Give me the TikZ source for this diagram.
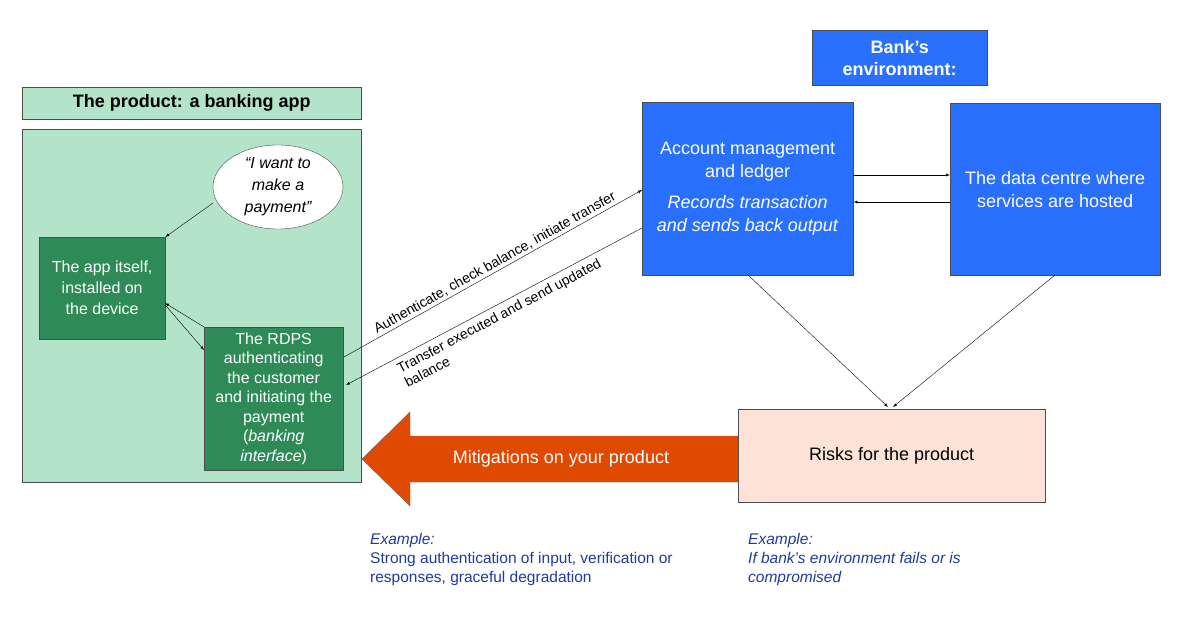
\documentclass[tikz,border=0pt]{standalone}
\usepackage{fontspec}
\setmainfont{Liberation Sans}
\usetikzlibrary{shapes.geometric}
\definecolor{bankblue}{HTML}{2970FF}
\definecolor{lightgreen}{HTML}{B3E3C9}
\definecolor{darkgreen}{HTML}{2E8B57}
\definecolor{peach}{HTML}{FDE3D7}
\definecolor{mitig}{HTML}{E04A00}
\definecolor{exblue}{HTML}{1F3C9C}
\tikzset{
  blue box/.style={draw=black!70, fill=bankblue, text=white, align=center, anchor=north west, inner sep=0pt},
  green box/.style={draw=black!70, fill=darkgreen, text=white, align=center, anchor=north west, inner sep=0pt},
  flow/.style={-latex, thin},
  lbl/.style={font=\fontsize{14}{16}\selectfont, align=center, inner sep=2pt},
  example/.style={text=exblue, font=\fontsize{15.5}{19}\selectfont, align=left, anchor=north west, inner sep=0pt}
}
\begin{document}
\begin{tikzpicture}[x=1pt, y=-1pt, font=\fontsize{18}{23}\selectfont]
  \useasboundingbox (0,0) rectangle (1187,623);

  % bank side
  \node[blue box, minimum width=175, minimum height=55, font=\fontsize{18}{22}\selectfont\bfseries] (bank) at (812,30) {Bank’s\\environment:};
  \node[blue box, minimum width=211, minimum height=173] (acc) at (642,102)
    {Account management\\and ledger\\[8pt]\textit{Records transaction}\\\textit{and sends back output}};
  \node[blue box, minimum width=210, minimum height=172] (dc) at (950,103)
    {The data centre where\\services are hosted};

  % product side
  \node[draw=black!70, fill=lightgreen, minimum width=339, minimum height=32, anchor=north west, inner sep=0pt,
        font=\fontsize{18}{22}\selectfont\bfseries] (head) at (22,87) {The product: a banking app};
  \node[draw=black!70, fill=lightgreen, minimum width=339, minimum height=353, anchor=north west, inner sep=0pt] (area) at (22,129) {};
  \node[draw=black!70, fill=white, ellipse, minimum width=130, minimum height=84, inner sep=0pt, align=center,
        font=\fontsize{16}{22}\selectfont\itshape] (wish) at (278,187) {“I want to\\make a\\payment”};
  \node[green box, minimum width=126, minimum height=102, font=\fontsize{16}{21}\selectfont] (app) at (39,237)
    {The app itself,\\installed on\\the device};
  \node[green box, minimum width=139, minimum height=143, font=\fontsize{16}{19.5}\selectfont] (rdps) at (204,327)
    {The RDPS\\authenticating\\the customer\\and initiating the\\payment\\(\textit{banking}\\\textit{interface})};

  % risks and mitigation
  \node[draw=black!70, fill=peach, minimum width=307, minimum height=93, anchor=north west, inner sep=0pt] (risk) at (738,409)
    {Risks for the product};
  \draw[draw=black!60, fill=mitig] (738,436) -- (410,436) -- (410,412) -- (362,459) -- (410,506) -- (410,482) -- (738,482) -- cycle;
  \node[text=white] (mittxt) at (561,459) {Mitigations on your product};
  \node[example] (ex1) at (370,533) {\textit{Example:}\\Strong authentication of input, verification or\\responses, graceful degradation};
  \node[example] (ex2) at (748,533) {\textit{Example:}\\\textit{If bank’s environment fails or is}\\\textit{compromised}};

  % connectors
  \coordinate (wishout) at (213,203);
  \draw[flow] (wishout) -- (app.north east);
  \draw[flow] (rdps.north west) -- ++(-39,-24);
  \draw[flow] (app.east) ++(0,17) -- (rdps.west |- 0,350);
  \coordinate (r1) at (344,357);
  \coordinate (a1) at (642,190);
  \coordinate (a2) at (642,228);
  \coordinate (r2) at (346,385);
  \draw[flow] (r1) -- (a1) node[pos=0.52, above, sloped, lbl] {Authenticate, check balance, initiate transfer};
  \draw[flow] (a2) -- (r2) node[pos=0.5, below=3pt, sloped, lbl, align=left] {Transfer executed and send updated\\balance};
  \draw[flow] (acc.east |- 0,175) -- (dc.west |- 0,175);
  \draw[flow] (dc.west |- 0,202) -- (acc.east |- 0,202);
  \draw[flow] (748,275) -- (888,407);
  \draw[flow] (1055,275) -- (893,407);
\end{tikzpicture}
\end{document}
